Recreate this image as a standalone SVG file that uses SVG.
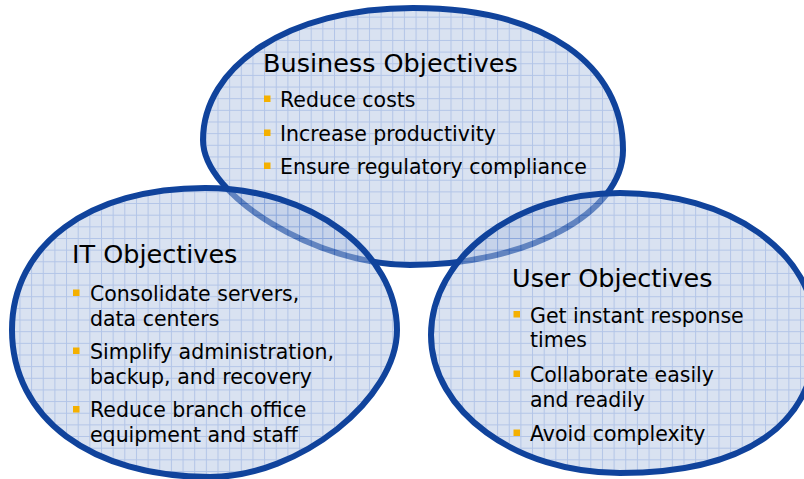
<svg xmlns="http://www.w3.org/2000/svg" width="804" height="479" viewBox="0 0 804 479">
  <defs>
    <pattern id="grid" patternUnits="userSpaceOnUse" x="7.8" y="5" width="11.65" height="11.65">
      <rect width="11.65" height="11.65" fill="#b3c5e3"/>
      <path d="M0 0.5H11.65M0.5 0V11.65" stroke="#668bd0" stroke-width="1" fill="none"/>
    </pattern>
  </defs>
  <style>
    .blob { fill: url(#grid); fill-opacity: 0.5; stroke: #10439c; stroke-width: 6; stroke-linejoin: round; }
    .h { font-family: "DejaVu Sans", sans-serif; font-size: 25.5px; fill: #000; }
    .t { font-family: "DejaVu Sans", sans-serif; font-size: 20.5px; fill: #000; }
    .b { fill: #f4b000; }
  </style>
  <rect width="804" height="479" fill="#ffffff"/>

  <g id="business-objectives">
    <path class="blob" d="M203,140 C203,67 287,8 413,8 C545,8 623,65 623,150 C623,213 527,265 410,265 C317,265 203,196 203,140 Z"/>
    <text class="h" x="263" y="72">Business Objectives</text>
    <rect class="b" x="264" y="95.5" width="6.5" height="6.5"/>
    <text class="t" x="280" y="107">Reduce costs</text>
    <rect class="b" x="264" y="129.5" width="6.5" height="6.5"/>
    <text class="t" x="280" y="141">Increase productivity</text>
    <rect class="b" x="264" y="162.5" width="6.5" height="6.5"/>
    <text class="t" x="280" y="174">Ensure regulatory compliance</text>
  </g>

  <g id="it-objectives">
    <path class="blob" d="M12,330 C12,245 89,188 205,188 C311,188 397,252 397,330 C397,398 300,477 210,477 C91,477 12,418 12,330 Z"/>
    <text class="h" x="72" y="263">IT Objectives</text>
    <rect class="b" x="73" y="289.5" width="6.5" height="6.5"/>
    <text class="t" x="90" y="301">Consolidate servers,</text>
    <text class="t" x="90" y="326">data centers</text>
    <rect class="b" x="73" y="347.5" width="6.5" height="6.5"/>
    <text class="t" x="90" y="359">Simplify administration,</text>
    <text class="t" x="90" y="384">backup, and recovery</text>
    <rect class="b" x="73" y="406" width="6.5" height="6.5"/>
    <text class="t" x="90" y="417">Reduce branch office</text>
    <text class="t" x="90" y="442">equipment and staff</text>
  </g>

  <g id="user-objectives">
    <path class="blob" d="M431,335 C431,257 516,193 620,193 C726,193 816,250 816,335 C816,425 745,473 620,473 C516,473 431,411 431,335 Z"/>
    <text class="h" x="512" y="287">User Objectives</text>
    <rect class="b" x="513.5" y="311" width="6.5" height="6.5"/>
    <text class="t" x="530" y="322.5">Get instant response</text>
    <text class="t" x="530" y="347">times</text>
    <rect class="b" x="513.5" y="370.5" width="6.5" height="6.5"/>
    <text class="t" x="530" y="382">Collaborate easily</text>
    <text class="t" x="530" y="407">and readily</text>
    <rect class="b" x="513.5" y="429.5" width="6.5" height="6.5"/>
    <text class="t" x="530" y="440.5">Avoid complexity</text>
  </g>

  <g id="connectors"/>
</svg>
